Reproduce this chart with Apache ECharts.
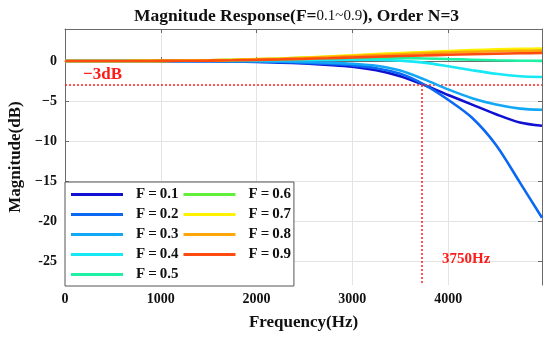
<!DOCTYPE html>
<html>
<head>
<meta charset="utf-8">
<script src="https://cdn.jsdelivr.net/npm/echarts@6/dist/echarts.min.js"></script>
<style>html,body{margin:0;padding:0;background:#fff;}#c{width:550px;height:338px;}</style>
</head>
<body>
<div id="c"></div>
<script>
// ---- data ----
const freqs = [0, 250, 500, 750, 1000, 1250, 1500, 1750, 2000, 2250, 2500, 2750, 3000, 3250, 3500, 3750, 4000, 4250, 4500, 4750, 4980];
const seriesNames = ['F=0.1', 'F=0.2', 'F=0.3', 'F=0.4', 'F=0.5', 'F=0.6', 'F=0.7', 'F=0.8', 'F=0.9'];
const magF01 = [0, 0, 0, 0, -0.01, -0.02, -0.04, -0.07, -0.12, -0.2, -0.32, -0.48, -0.7, -1.15, -1.9, -3.0, -4.25, -5.45, -6.65, -7.7, -8.1];
const magF02 = [0, 0, 0, 0, -0.01, -0.02, -0.03, -0.05, -0.09, -0.15, -0.25, -0.38, -0.55, -0.9, -1.6, -2.95, -4.85, -7.1, -10.5, -15.2, -19.6];
const magF03 = [0, 0, 0, 0, 0, 0, -0.01, -0.02, -0.04, -0.07, -0.12, -0.2, -0.35, -0.6, -1.2, -2.3, -3.55, -4.65, -5.45, -5.95, -6.1];
const magF04 = [0, 0, 0, 0, 0.01, 0.02, 0.03, 0.05, 0.08, 0.11, 0.14, 0.17, 0.18, 0.16, 0.05, -0.2, -0.65, -1.15, -1.6, -1.9, -2.0];
const magF05 = [0, 0, 0, 0.01, 0.02, 0.04, 0.07, 0.11, 0.16, 0.22, 0.28, 0.34, 0.38, 0.4, 0.38, 0.32, 0.24, 0.16, 0.09, 0.04, 0.02];
const magF06 = [0, 0, 0, 0.01, 0.02, 0.05, 0.09, 0.14, 0.21, 0.3, 0.41, 0.53, 0.66, 0.8, 0.93, 1.05, 1.16, 1.26, 1.34, 1.4, 1.43];
const magF07 = [0, 0, 0, 0.01, 0.02, 0.05, 0.09, 0.15, 0.23, 0.32, 0.44, 0.57, 0.71, 0.86, 1.0, 1.13, 1.25, 1.36, 1.45, 1.52, 1.56];
const magF08 = [0, 0, 0, 0.01, 0.02, 0.04, 0.08, 0.13, 0.2, 0.28, 0.38, 0.49, 0.61, 0.73, 0.85, 0.96, 1.06, 1.15, 1.22, 1.27, 1.3];
const magF09 = [0, 0, 0, 0, 0.01, 0.03, 0.05, 0.09, 0.14, 0.2, 0.27, 0.35, 0.44, 0.53, 0.62, 0.7, 0.78, 0.85, 0.91, 0.96, 1.0];
const allMags = [magF01, magF02, magF03, magF04, magF05, magF06, magF07, magF08, magF09];
const xTicks = [0, 1000, 2000, 3000, 4000];
const yTicks = [-25, -20, -15, -10, -5, 0];
const yTickLabels = ['-25', '-20', '\u221215', '\u221210', '\u22125', '0'];
const threshDb = -3;
const cutoffFreq = 3720;
const xMax = 4980, yMin = -28, yMax = 4;

// ---- styles ----
const colors = ['#1010d2', '#0a68f2', '#12a8f6', '#16e8f6', '#1ef0a4', '#62ee3a', '#fff200', '#ffa60a', '#ff4a10'];
const FONT = '"Liberation Serif", "Times New Roman", serif';
const frame = '#6a6a6a';

const series = seriesNames.map((name, i) => ({
  name: name,
  type: 'line',
  data: freqs.map((f, j) => [f, allMags[i][j]]),
  smooth: 0.3,
  showSymbol: false,
  symbol: 'none',
  lineStyle: { width: 2.6, color: colors[i] },
  itemStyle: { color: colors[i] },
  z: 3 + i
}));

series.push({
  name: 'markers',
  type: 'line',
  data: [],
  silent: true,
  markLine: {
    silent: true,
    symbol: 'none',
    label: { show: false },
    lineStyle: { color: '#ff2020', type: [2, 2], width: 1.5 },
    data: [
      { yAxis: threshDb },
      [{ coord: [cutoffFreq, threshDb] }, { coord: [cutoffFreq, yMin] }]
    ]
  },
  z: 2
});

const chart = echarts.init(document.getElementById('c'), null, { renderer: 'canvas' });
chart.setOption({
  animation: false,
  backgroundColor: '#fff',
  title: {
    text: '{b|Magnitude Response(F=}{n|0.1~0.9}{b|), Order N=3}',
    left: 129, top: 2,
    textStyle: {
      rich: {
        b: { fontFamily: FONT, fontWeight: 'bold', fontSize: 17.5, color: '#111' },
        n: { fontFamily: FONT, fontWeight: 'normal', fontSize: 15, color: '#111' }
      }
    }
  },
  grid: { left: 65, right: 8, top: 29, bottom: 53, containLabel: false, outerBoundsMode: 'none' },
  legend: {
    data: seriesNames,
    orient: 'vertical',
    left: 65, top: 182,
    height: 96,
    padding: [5, 3, 4, 6],
    itemGap: 5,
    itemWidth: 52,
    itemHeight: 3,
    icon: 'rect',
    backgroundColor: '#fff',
    borderColor: '#555',
    borderWidth: 1,
    borderRadius: 0,
    selectedMode: false,
    formatter: n => n.replace('=', '\u2009=\u2009'),
    textStyle: { fontFamily: FONT, fontWeight: 'bold', fontSize: 15, color: '#111', padding: [0, 0, 0, 8] }
  },
  xAxis: [{
    type: 'value', min: 0, max: xMax, interval: 1000,
    position: 'bottom',
    name: 'Frequency(Hz)', nameLocation: 'middle', nameGap: 29,
    nameTextStyle: { fontFamily: FONT, fontWeight: 'bold', fontSize: 17, color: '#111' },
    axisLine: { show: true, lineStyle: { color: frame } },
    axisTick: { show: true, inside: true, length: 4, lineStyle: { color: frame } },
    axisLabel: { fontFamily: FONT, fontWeight: 'bold', fontSize: 14, color: '#111', margin: 7, showMaxLabel: false,
      formatter: v => xTicks.includes(v) ? String(v) : '' },
    splitLine: { show: true, lineStyle: { color: '#e4e4e4', width: 1 } }
  }, {
    type: 'value', min: 0, max: xMax, interval: 1000,
    position: 'top',
    axisLine: { show: true, onZero: false, lineStyle: { color: frame } },
    axisTick: { show: true, inside: true, length: 4, lineStyle: { color: frame } },
    axisLabel: { show: false },
    splitLine: { show: false }
  }],
  yAxis: [{
    type: 'value', min: yMin, max: yMax,
    position: 'left',
    name: 'Magnitude(dB)', nameLocation: 'middle', nameGap: 36,
    nameTextStyle: { fontFamily: FONT, fontWeight: 'bold', fontSize: 17, color: '#111' },
    axisLine: { show: true, lineStyle: { color: frame } },
    axisTick: { show: true, inside: true, length: 4, customValues: yTicks, lineStyle: { color: frame } },
    axisLabel: { fontFamily: FONT, fontWeight: 'bold', fontSize: 14, color: '#111', margin: 8,
      customValues: yTicks,
      formatter: v => { const k = yTicks.indexOf(v); return k >= 0 ? yTickLabels[k] : ''; } },
    splitLine: { show: true, lineStyle: { color: '#e4e4e4', width: 1 } }
  }, {
    type: 'value', min: yMin, max: yMax,
    position: 'right',
    axisLine: { show: true, onZero: false, lineStyle: { color: frame } },
    axisTick: { show: true, inside: true, length: 4, customValues: yTicks, lineStyle: { color: frame } },
    axisLabel: { show: false },
    splitLine: { show: false }
  }],
  graphic: [
    { type: 'text', left: 83, top: 66, z: 20,
      style: { text: '\u22123dB', fill: '#ff1a1a', font: 'bold 17px ' + FONT } },
    { type: 'text', left: 442, top: 252, z: 20,
      style: { text: '3750Hz', fill: '#ff1a1a', font: 'bold 15px ' + FONT } }
  ],
  series: series
});
</script>
</body>
</html>
